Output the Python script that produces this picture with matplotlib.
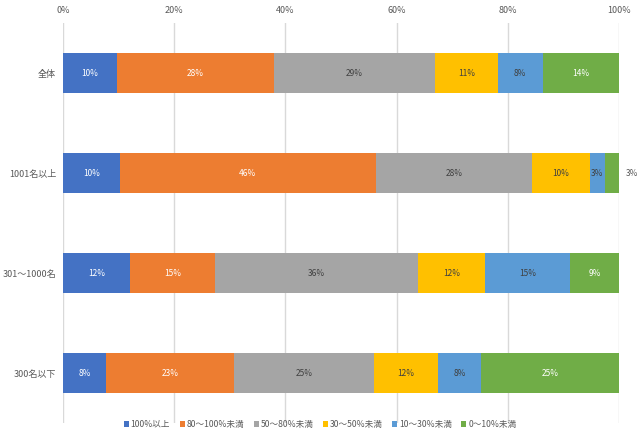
import matplotlib.pyplot as plt
import numpy as np

plt.rcParams['font.family'] = ['Noto Sans CJK JP', 'DejaVu Sans']

## data (percent of each row)

groups = ['全体', '1001名以上', '301～1000名', '300名以下']
series = ['100%以上', '80～100%未満', '50～80%未満', '30～50%未満', '10～30%未満', '0～10%未満']
values = [
    [9.7, 10.2, 12.1, 7.7],
    [28.2, 46.1, 15.3, 23.0],
    [29.0, 28.1, 36.4, 25.2],
    [11.3, 10.3, 12.1, 11.6],
    [8.1, 2.7, 15.3, 7.7],
    [13.7, 2.6, 8.8, 24.8],
]
colors = ['#4472C4', '#ED7D31', '#A5A5A5', '#FFC000', '#5B9BD5', '#70AD47']
label_colors = ['white', 'white', '#404040', '#404040', '#404040', 'white']
xticks = [0, 20, 40, 60, 80, 100]

## plotting

fig = plt.figure(figsize=(6.4, 4.38), dpi=100)
ax = fig.add_axes([63 / 640, 1 - 423 / 438, 556 / 640, 400 / 438])

y = np.arange(len(groups))
left = np.zeros(len(groups))
for i, name in enumerate(series):
    vals = np.array(values[i])
    bars = ax.barh(y, vals, left=left, height=0.4, color=colors[i], label=name, zorder=3)
    for j, b in enumerate(bars):
        txt = '%.0f%%' % vals[j]
        if i == len(series) - 1 and vals[j] < 5:
            # too narrow: label goes outside the bar
            ax.annotate(txt, (left[j] + vals[j], y[j]), xytext=(9, 0), textcoords='offset points',
                        ha='center', va='center', fontsize=6, color='#595959')
        else:
            ax.text(left[j] + vals[j] / 2, y[j], txt, ha='center', va='center',
                    fontsize=6, color=label_colors[i], zorder=4)
    left += vals

ax.set_xlim(0, 100)
ax.set_ylim(len(groups) - 0.5, -0.5)
ax.set_yticks(y)
ax.set_yticklabels(groups)
ax.set_xticks(xticks)
ax.set_xticklabels(['%d%%' % t for t in xticks])
ax.xaxis.tick_top()
ax.tick_params(axis='both', length=0, labelsize=6.5, colors='#595959')
ax.tick_params(axis='x', pad=6)
ax.tick_params(axis='y', pad=5)
ax.grid(axis='x', color='#D9D9D9', linewidth=1, zorder=0)
for s in ax.spines.values():
    s.set_visible(False)

fig.legend(loc='lower center', bbox_to_anchor=(0.5, 0.003), ncol=6, frameon=False,
           fontsize=6.2, handlelength=0.6, handleheight=0.6, handletextpad=0.2,
           columnspacing=1.1, labelcolor='#595959')

plt.savefig('out.png', dpi=100)
